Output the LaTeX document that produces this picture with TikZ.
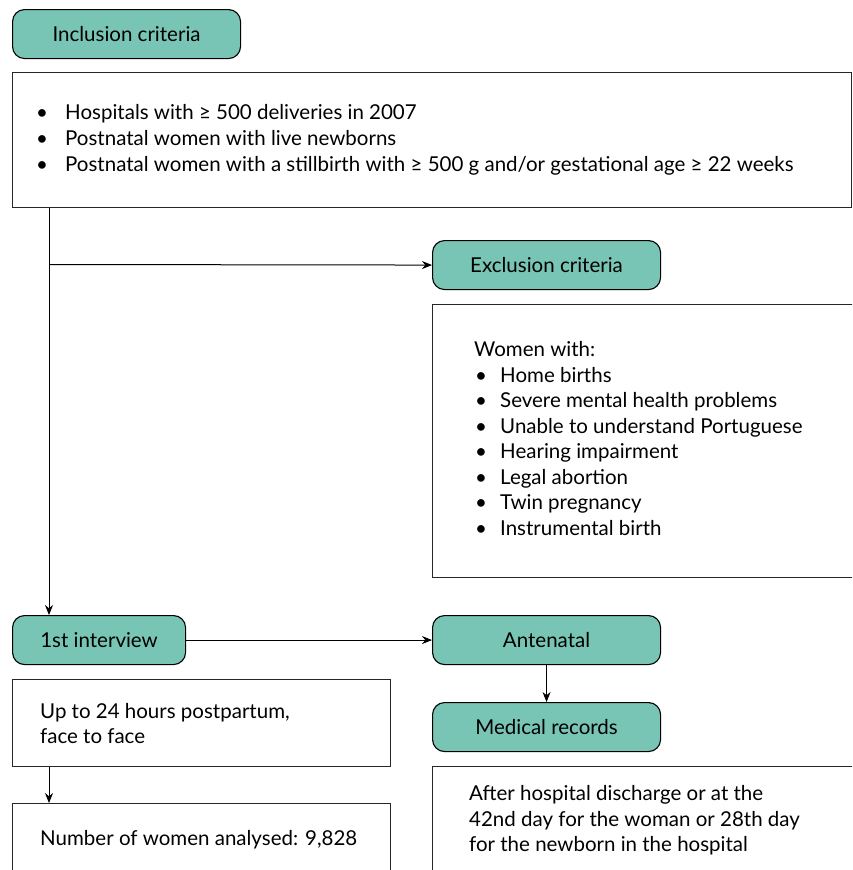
\documentclass[tikz,border=0pt]{standalone}
\usepackage{fontspec}
\setmainfont{Lato}
\usetikzlibrary{arrows.meta}
\definecolor{teal1}{HTML}{78C5B5}
\tikzset{
  hdr/.style={draw=black, line width=1.1pt, fill=teal1, rounded corners=12pt, minimum width=228pt, minimum height=49pt, anchor=north west, inner sep=0pt, font=\fontsize{20.5}{24}\selectfont},
  plain/.style={draw=black!85, line width=1.1pt, anchor=north west, inner sep=0pt},
  txt/.style={anchor=base west, inner sep=0pt, font=\fontsize{20.5}{24}\selectfont},
  bul/.style={anchor=base, inner sep=0pt, font=\fontsize{20.5}{24}\selectfont},
  arr/.style={line width=1pt, -{Stealth[length=10pt,width=8pt]}},
  ln/.style={line width=1pt}
}
\begin{document}
\begin{tikzpicture}[x=1pt,y=-1pt]
\useasboundingbox (0,0) rectangle (852,870);
\clip (0,0) rectangle (852,870);
% headers
\node[hdr] (inc) at (12,9) {Inclusion criteria};
\node[hdr] (exc) at (432,240) {Exclusion criteria};
\node[hdr, minimum width=173pt] (int1) at (12,615) {1st interview};
\node[hdr] (ante) at (432,615) {Antenatal};
\node[hdr] (med) at (432,702) {Medical records};
% plain boxes
\node[plain, minimum width=839pt, minimum height=135pt] (incbox) at (12,72) {};
\node[plain, minimum width=440pt, minimum height=273pt] (excbox) at (432,304) {};
\node[plain, minimum width=378pt, minimum height=87pt] (upbox) at (12,679) {};
\node[plain, minimum width=378pt, minimum height=100pt] (numbox) at (12,803) {};
\node[plain, minimum width=440pt, minimum height=120pt] (aftbox) at (432,766) {};
% inclusion text
\foreach \yy/\t [count=\i] in {119/{Hospitals with ≥ 500 deliveries in 2007},145/{Postnatal women with live newborns},171/{Postnatal women with a stillbirth with ≥ 500 g and/or gestational age ≥ 22 weeks}}{
  \node[bul] (ib\i) at (42,\yy) {•};
  \node[txt] (it\i) at (65,\yy) {\t};
}
% exclusion text
\node[txt] (ew) at (474,356) {Women with:};
\foreach \yy/\t [count=\i] in {382/{Home births},407/{Severe mental health problems},433/{Unable to understand Portuguese},458/{Hearing impairment},484/{Legal abortion},509/{Twin pregnancy},535/{Instrumental birth}}{
  \node[bul] (eb\i) at (481,\yy) {•};
  \node[txt] (et\i) at (500,\yy) {\t};
}
% other text
\node[txt] (up1) at (40,718) {Up to 24 hours postpartum,};
\node[txt] (up2) at (40,743) {face to face};
\node[txt] (num) at (40,845) {Number of women analysed: 9,828};
\node[txt] (af1) at (469,800) {After hospital discharge or at the};
\node[txt] (af2) at (469,826) {42nd day for the woman or 28th day};
\node[txt] (af3) at (469,851) {for the newborn in the hospital};
% connectors
\draw[arr] ([xshift=37pt]incbox.south west) -- ([xshift=37pt]int1.north west);
\coordinate (br) at (49,264.5);
\draw[arr] (br) -- (exc.west);
\draw[arr] (int1.east) -- (ante.west);
\draw[arr] (ante.south) -- (med.north);
\draw[arr] ([xshift=37pt]upbox.south west) -- ([xshift=37pt]numbox.north west);
\end{tikzpicture}
\end{document}
